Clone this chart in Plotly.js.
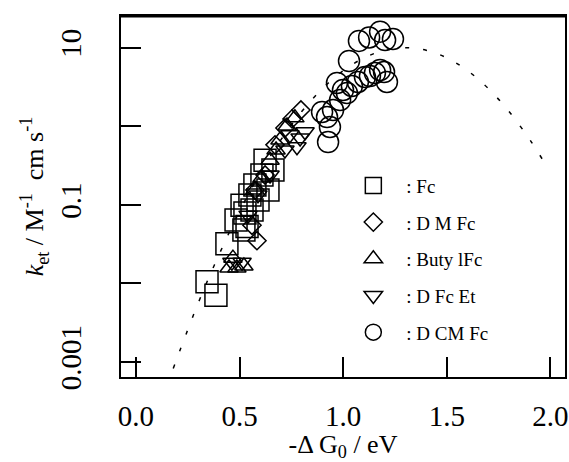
<!DOCTYPE html>
<html>
<head>
<meta charset="utf-8">
<script src="https://cdn.plot.ly/plotly-3.0.1.min.js"></script>
<style>html,body{margin:0;padding:0;background:#fff;}#chart{width:569px;height:462px;}</style>
</head>
<body>
<div id="chart"></div>
<script>
// Marcus-type fitted curve
const curveX = [0.18, 0.3, 0.4, 0.5, 0.6, 0.7, 0.8, 0.9, 1.0, 1.1, 1.2, 1.3, 1.4, 1.5, 1.6, 1.7, 1.8, 1.9, 1.97];
const curveY = [0.00083, 0.0056, 0.023, 0.083, 0.256, 0.676, 1.54, 3.02, 5.1, 7.41, 9.28, 10.0, 9.28, 7.41, 5.1, 3.02, 1.54, 0.676, 0.348];

// Fc
const fcX = [0.343, 0.386, 0.439, 0.483, 0.536, 0.512, 0.550, 0.526, 0.574, 0.589, 0.608, 0.623, 0.661, 0.560, 0.637, 0.521];
const fcY = [0.0105, 0.0071, 0.032, 0.064, 0.053, 0.099, 0.134, 0.079, 0.179, 0.115, 0.24, 0.37, 0.278, 0.086, 0.155, 0.048];

// DMFc
const dmfcX = [0.796, 0.753, 0.719, 0.671, 0.623, 0.574, 0.584, 0.560];
const dmfcY = [1.61, 1.24, 0.95, 0.58, 0.24, 0.155, 0.035, 0.055];

// ButylFc
const butX = [0.449, 0.487, 0.521, 0.468, 0.695, 0.729, 0.676, 0.647, 0.767, 0.574, 0.608];
const butY = [0.0157, 0.0157, 0.0167, 0.021, 0.67, 1.01, 0.50, 0.37, 1.28, 0.155, 0.22];

// DFcEt
const dfcetX = [0.463, 0.512, 0.792, 0.777, 0.743, 0.816, 0.719, 0.647, 0.589, 0.541];
const dfcetY = [0.0186, 0.0186, 0.71, 0.55, 0.78, 0.85, 0.50, 0.24, 0.134, 0.074];

// DCMFc
const dcmX = [0.970, 1.028, 1.076, 1.125, 1.178, 1.240, 1.202,
              0.927, 0.936, 0.951, 0.985, 1.018, 1.071, 1.105, 1.153, 1.178, 1.197, 1.211, 0.922, 0.898, 0.999, 1.042, 1.129];
const dcmY = [3.56, 6.77, 12.2, 13.5, 16.0, 12.9, 12.5,
              0.63, 0.98, 1.61, 2.16, 2.65, 3.66, 4.24, 4.76, 5.2, 4.9, 3.66, 1.31, 1.52, 2.9, 3.26, 4.36];

const names = [': Fc', ': D M Fc', ': Buty lFc', ': D Fc Et', ': D CM Fc'];
const yTickVals = [0.001, 0.01, 0.1, 1, 10];
const yTickText = ['0.001', '', '0.1', '', '10'];
const xTickVals = [0, 0.5, 1.0, 1.5, 2.0];
const xTickText = ['0.0', '0.5', '1.0', '1.5', '2.0'];

const serif = 'Liberation Serif, Times New Roman, serif';
function mk(x, y, name, symbol, size, g) {
  return {x: x, y: y, name: name, type: 'scatter', mode: 'markers', legendgroup: g,
    marker: {symbol: symbol, size: size, color: '#000', line: {color: '#000', width: 1.5}}};
}
const traces = [
  {x: curveX, y: curveY, type: 'scatter', mode: 'lines', line: {shape: 'spline', color: '#000', width: 1.5, dash: '4px,14px'}, showlegend: false, hoverinfo: 'skip'},
  mk(fcX, fcY, names[0], 'square-open', 22, 'a'),
  mk(dmfcX, dmfcY, names[1], 'diamond-open', 14, 'b'),
  mk(butX, butY, names[2], 'triangle-up-open', 16, 'c'),
  mk(dfcetX, dfcetY, names[3], 'triangle-down-open', 16, 'd'),
  mk(dcmX, dcmY, names[4], 'circle-open', 21, 'e')
];
const layout = {
  width: 569, height: 462,
  margin: {l: 121, r: 4, t: 16, b: 85},
  paper_bgcolor: '#fff', plot_bgcolor: '#fff',
  font: {family: serif, color: '#000'},
  showlegend: true,
  legend: {x: 0.494, y: 0.583, xanchor: 'left', yanchor: 'top', bgcolor: 'rgba(0,0,0,0)', borderwidth: 0,
           font: {family: serif, size: 19, color: '#000'}, tracegroupgap: 9, itemsizing: 'trace', itemwidth: 56},
  xaxis: {range: [-0.072, 2.07], tickvals: xTickVals, ticktext: xTickText, ticks: 'inside', ticklen: 20, tickwidth: 2,
          tickcolor: '#000', showline: true, linecolor: '#000', linewidth: 2, mirror: true, showgrid: false, zeroline: false,
          tickfont: {family: serif, size: 29}, ticklabelstandoff: 12, ticklabeloverflow: 'allow',
          title: {text: '-Δ G<sub>0</sub> / eV', font: {family: serif, size: 26}, standoff: 2}},
  yaxis: {type: 'log', range: [-3.19, 1.403], tickvals: yTickVals, ticktext: yTickText, ticks: 'inside', ticklen: 20, tickwidth: 2,
          tickcolor: '#000', showline: true, linecolor: '#000', linewidth: 2, mirror: true, showgrid: false, zeroline: false,
          tickangle: -90, tickfont: {family: serif, size: 29}, ticklabelstandoff: 26,
          title: {text: '<i>k</i><sub>et</sub> / M<sup>-1</sup>  cm s<sup>-1</sup>', font: {family: serif, size: 26}, standoff: 4}},
  shapes: [{type: 'line', xref: 'paper', yref: 'paper', x0: 0, x1: 1, y0: 1, y1: 1, line: {color: '#000', width: 3}}]
};
Plotly.newPlot('chart', traces, layout, {displayModeBar: false, staticPlot: true});
</script>
</body>
</html>
